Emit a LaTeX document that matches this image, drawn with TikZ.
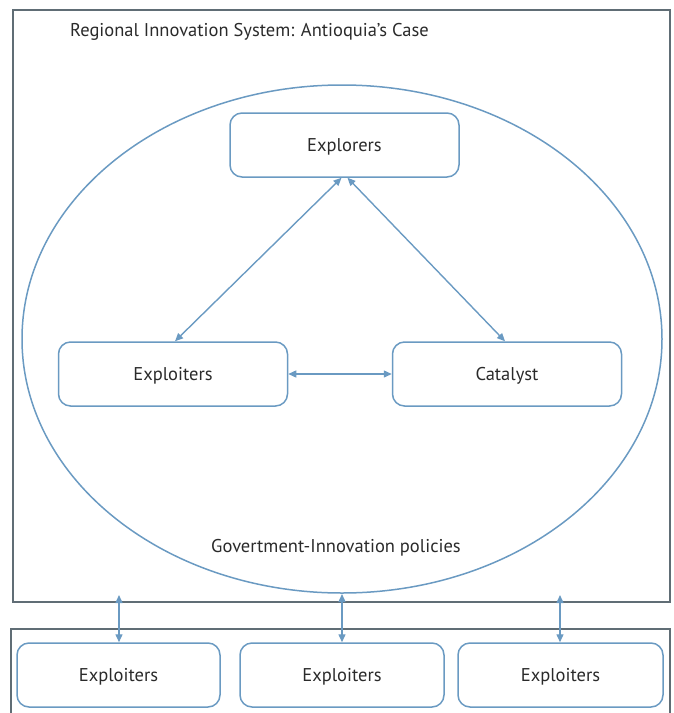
\documentclass[tikz,border=0pt]{standalone}
\usepackage{fontspec}
\setmainfont{PT Sans}
\usetikzlibrary{arrows.meta}
\definecolor{bl}{HTML}{6A9AC2}
\definecolor{fr}{HTML}{606D75}
\definecolor{tx}{HTML}{2A2A2A}
\tikzset{
  box/.style={draw=bl, line width=1.5pt, rounded corners=12pt, minimum width=229pt, minimum height=64pt, inner sep=0pt, text height=12.5pt, text depth=0pt, text=tx, font=\fontsize{18.5}{20}\selectfont},
  lbl/.style={text=tx, font=\fontsize{18.5}{20}\selectfont, inner sep=0pt},
  link/.style={draw=bl, line width=1.4pt, {Triangle[length=8pt,width=7pt]}-{Triangle[length=8pt,width=7pt]}},
  frame/.style={draw=fr, line width=1.8pt}
}
\begin{document}
\begin{tikzpicture}[x=1pt,y=-1pt]
\useasboundingbox (0,0) rectangle (673,713);
\clip (0,0) rectangle (673,713);
% outer frame
\draw[frame] (13,10) rectangle (670,602);
\node[lbl, anchor=base west] (title) at (70,36) {Regional Innovation System: Antioquia’s Case};
% ellipse
\draw[draw=bl, line width=1.5pt] (342,339) ellipse [x radius=320, y radius=254];
\node[lbl, anchor=base] (gov) at (336,552) {Govertment-Innovation policies};
% inner boxes
\node[box] (explorers) at (344.5,145) {Explorers};
\node[box] (exploitersM) at (173,374) {Exploiters};
\node[box] (catalyst) at (507,374) {Catalyst};
\draw[link] ([xshift=-3pt]explorers.south) -- ([xshift=2pt]exploitersM.north);
\draw[link] ([xshift=3pt]explorers.south) -- ([xshift=-2pt]catalyst.north);
\draw[link] (exploitersM.east) -- (catalyst.west);
% bottom frame
\draw[frame] (11,720) -- (11,629) -- (670,629) -- (670,720);
\node[box, minimum width=203pt, minimum height=64pt] (b1) at (118.5,675) {Exploiters};
\node[box, minimum width=204pt, minimum height=64pt] (b2) at (342,675) {Exploiters};
\node[box, minimum width=205pt, minimum height=64pt] (b3) at (560.5,675) {Exploiters};
\coordinate (t1) at (119,595);
\coordinate (t2) at (342,594);
\coordinate (t3) at (560,595);
\draw[link] (t1) -- (t1 |- b1.north);
\draw[link] (t2) -- (t2 |- b2.north);
\draw[link] (t3) -- (t3 |- b3.north);
\end{tikzpicture}
\end{document}
